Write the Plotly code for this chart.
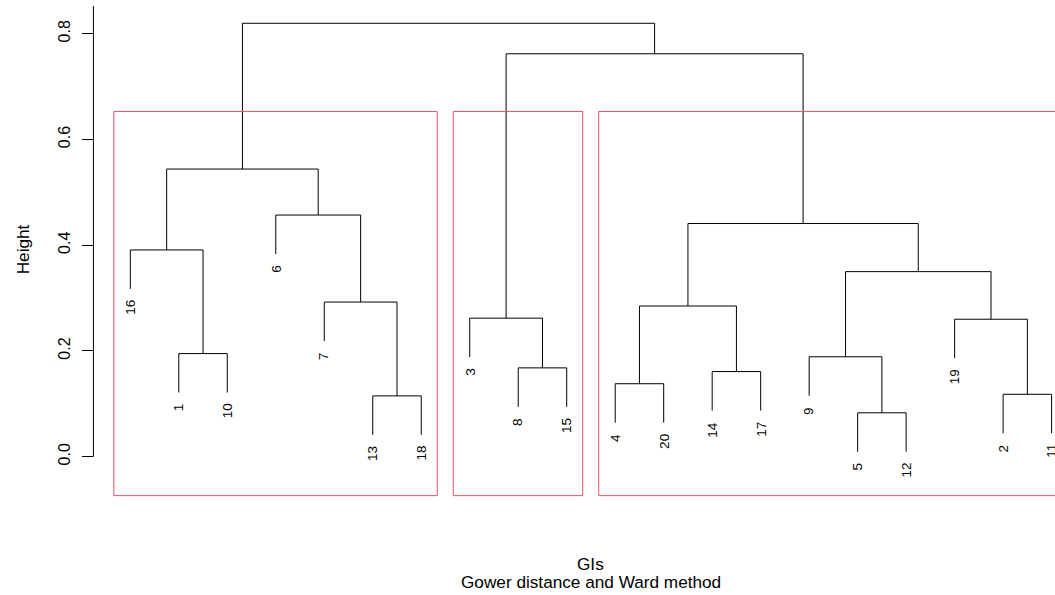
import plotly.graph_objects as go

# ---- data ----
leaf_order = [16, 1, 10, 6, 7, 13, 18, 3, 8, 15, 4, 20, 14, 17, 9, 5, 12, 19, 2, 11]
# R-style merge matrix: negative = observation label, positive = earlier merge row (1-based)
merge_a = [-5, -13, -2, -4, -14, -8, -9, -1, -19, -3, 4, -7, 7, -16, 11, -6, 14, 10, 17]
merge_b = [-12, -18, -11, -20, -17, -15, 1, -10, 3, 6, 5, 2, 9, 8, 13, 12, 16, 15, 18]
merge_height = [0.083, 0.115, 0.118, 0.138, 0.161, 0.168, 0.189, 0.195, 0.260, 0.262,
                0.285, 0.2925, 0.350, 0.391, 0.441, 0.457, 0.544, 0.762, 0.8197]
n_clusters = 3
tick_vals = [0.0, 0.2, 0.4, 0.6, 0.8]
tick_text = ["0.0", "0.2", "0.4", "0.6", "0.8"]

FONT = "Liberation Sans, Arial, sans-serif"
BLACK = "#000000"
RED = "#DF536B"

n = len(leaf_order)
hang = 0.1 * (max(merge_height) - min(merge_height))
leaf_x = {lab: i + 1 for i, lab in enumerate(leaf_order)}

node_x = {}
node_y = {}
xs, ys = [], []
leaf_end = {}


def child_pos(c, h):
    if c < 0:
        lab = -c
        y0 = h - hang
        leaf_end[lab] = y0
        return leaf_x[lab], y0
    return node_x[c], node_y[c]


for r, (a, b, h) in enumerate(zip(merge_a, merge_b, merge_height), start=1):
    xa, ya = child_pos(a, h)
    xb, yb = child_pos(b, h)
    xs += [xa, xa, xb, xb, None]
    ys += [ya, h, h, yb, None]
    node_x[r] = (xa + xb) / 2
    node_y[r] = h

fig = go.Figure()
fig.add_trace(go.Scatter(x=xs, y=ys, mode="lines",
                         line=dict(color=BLACK, width=1),
                         hoverinfo="skip", showlegend=False))

# ---- layout geometry ----
W, H = 1055, 595
ml, mr, mt, mb = 88, 0, 6, 97
px_leaf1 = 130.3
px_step = 48.49
py_zero = 456.7
py_unit = 528.75
x_lo = 1 + (ml - px_leaf1) / px_step
x_hi = 1 + (W - mr - px_leaf1) / px_step
y_hi = (py_zero - mt) / py_unit
y_lo = (py_zero - (H - mb)) / py_unit
usr_left = 1 - 0.04 * (n - 1)
usr_right = n + 0.04 * (n - 1)
usr_bottom = -hang

# leaf labels (rotated)
for lab in leaf_order:
    fig.add_annotation(x=leaf_x[lab], y=leaf_end[lab], xref="x", yref="y",
                       text=str(lab), textangle=-90, showarrow=False,
                       xanchor="center", yanchor="top", yshift=-9,
                       font=dict(family=FONT, size=13.5, color=BLACK))


def members(c):
    if c < 0:
        return [-c]
    return members(merge_a[c - 1]) + members(merge_b[c - 1])


# rect.hclust boxes: cut the tree into n_clusters groups
groups = [len(merge_height)]
while len(groups) < n_clusters:
    top = max([g for g in groups if g > 0])
    groups.remove(top)
    groups += [merge_a[top - 1], merge_b[top - 1]]
group_idx = []
for g in groups:
    idx = [leaf_x[m] for m in members(g)]
    group_idx.append((min(idx), max(idx)))
group_idx.sort()
sorted_h = sorted(merge_height, reverse=True)
box_top = (sorted_h[n_clusters - 2] + sorted_h[n_clusters - 1]) / 2
for lo, hi in group_idx:
    fig.add_shape(type="rect", xref="x", yref="y",
                  x0=lo - 1 + 0.66, x1=hi + 0.33, y0=usr_bottom, y1=box_top,
                  line=dict(color=RED, width=1), fillcolor="rgba(0,0,0,0)")

# y axis line (from 0 to top of plot)
fig.add_shape(type="line", xref="x", yref="y", x0=usr_left, x1=usr_left,
              y0=0, y1=y_hi, line=dict(color=BLACK, width=1))

# titles
fig.add_annotation(x=(usr_left + usr_right) / 2, y=(H - mb - 564) / (H - mt - mb),
                   xref="x", yref="paper", text="GIs", showarrow=False,
                   xanchor="center", yanchor="middle",
                   font=dict(family=FONT, size=17.2, color=BLACK))
fig.add_annotation(x=(usr_left + usr_right) / 2, y=(H - mb - 582) / (H - mt - mb),
                   xref="x", yref="paper", text="Gower distance and Ward method",
                   showarrow=False, xanchor="center", yanchor="middle",
                   font=dict(family=FONT, size=17.2, color=BLACK))
fig.add_annotation(x=(23.3 - ml) / (W - ml - mr), y=(H - mb - 249) / (H - mt - mb),
                   xref="paper", yref="paper", text="Height", textangle=-90,
                   showarrow=False, xanchor="center", yanchor="middle",
                   font=dict(family=FONT, size=17.2, color=BLACK))

axis_px = px_leaf1 + (usr_left - 1) * px_step
fig.update_layout(
    width=W, height=H,
    margin=dict(l=ml, r=mr, t=mt, b=mb, pad=0),
    paper_bgcolor="white", plot_bgcolor="white",
    showlegend=False,
    xaxis=dict(range=[x_lo, x_hi], visible=False, fixedrange=True),
    yaxis=dict(range=[y_lo, y_hi], anchor="free",
               position=(axis_px - ml) / (W - ml - mr),
               tickvals=tick_vals, ticktext=tick_text,
               ticks="outside", ticklen=11, tickwidth=1, tickcolor=BLACK,
               ticklabelstandoff=6,
               tickangle=-90, tickfont=dict(family=FONT, size=16, color=BLACK),
               showline=False, showgrid=False, zeroline=False, fixedrange=True),
)

fig.write_html("out.html", config={"displayModeBar": False})

# remove the default page margin so the figure sits at the window's corner
with open("out.html", "r", encoding="utf-8") as f:
    html = f.read()
html = html.replace("<head>", "<head><style>html,body{margin:0;padding:0;overflow:hidden;}</style>", 1)
with open("out.html", "w", encoding="utf-8") as f:
    f.write(html)
